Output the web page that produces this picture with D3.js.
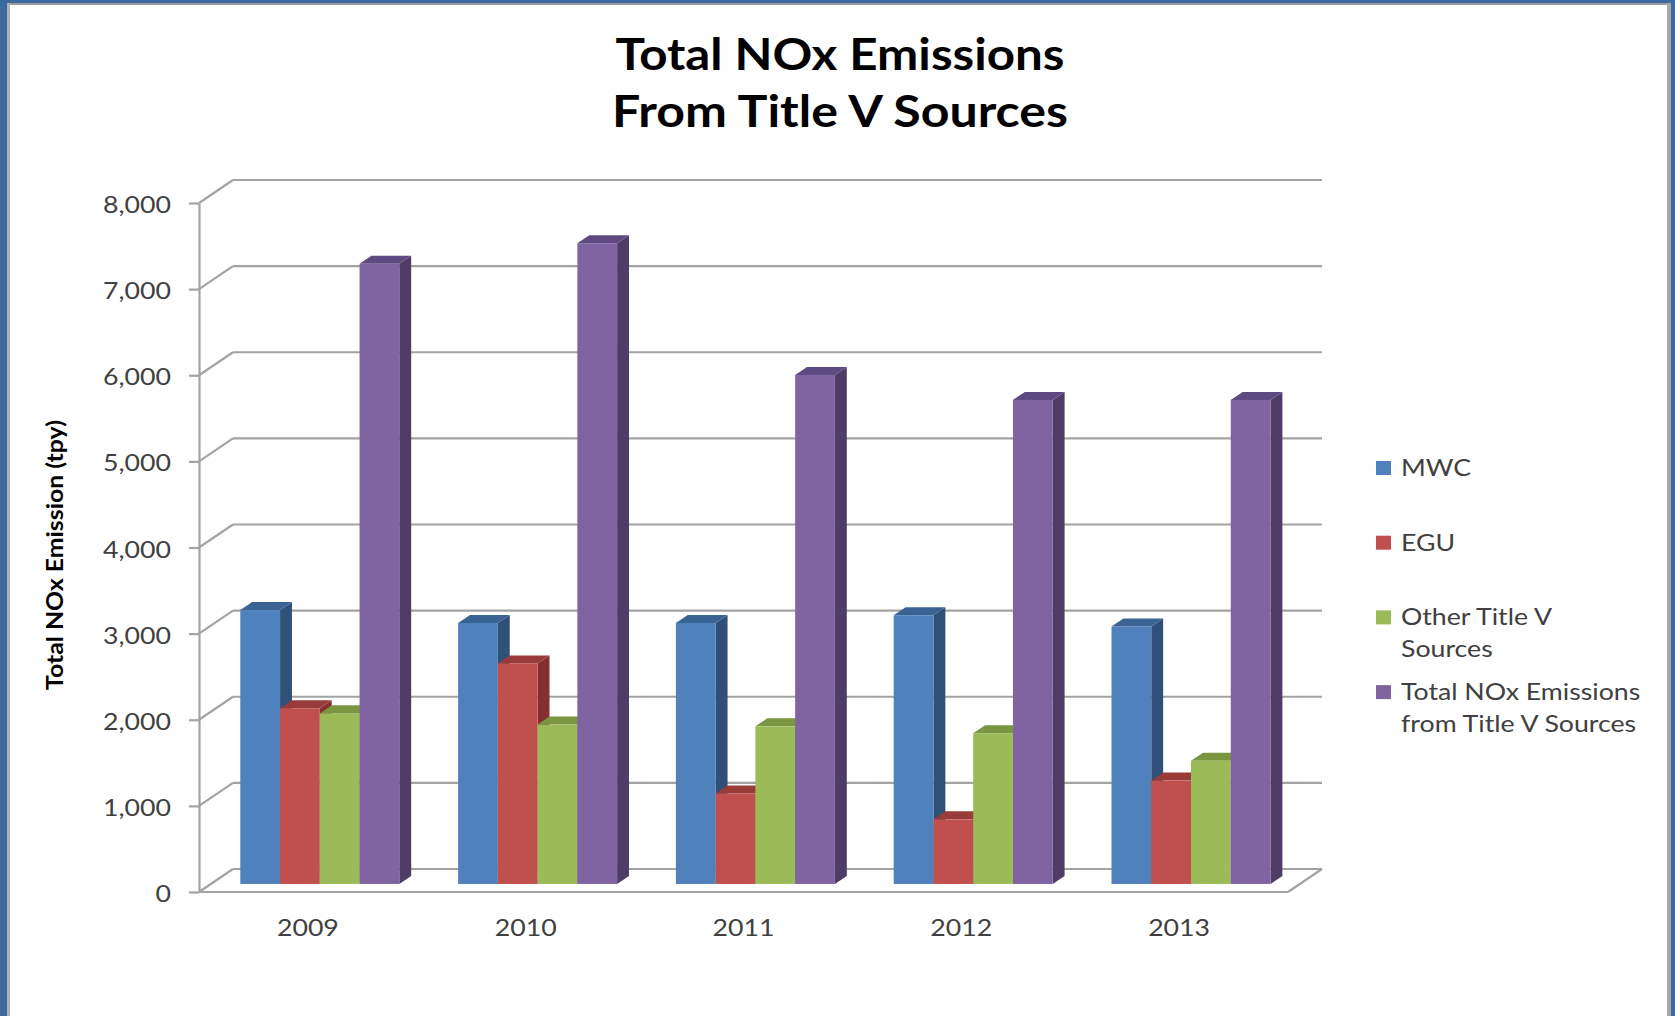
<!DOCTYPE html>
<html>
<head>
<meta charset="utf-8">
<script src="https://cdn.jsdelivr.net/npm/d3@7"></script>
<style>
  html, body { margin: 0; padding: 0; background: #ffffff; }
  svg { display: block; }
  text { font-family: Lato, "Open Sans", sans-serif; }
</style>
</head>
<body>
<svg id="chart" width="1675" height="1016"></svg>
<script>
// ---- data ----
const years = ["2009", "2010", "2011", "2012", "2013"];
const seriesNames = ["MWC", "EGU", "Other Title V Sources", "Total NOx Emissions from Title V Sources"];
const legendLines = [["MWC"], ["EGU"], ["Other Title V", "Sources"], ["Total NOx Emissions", "from Title V Sources"]];
const mwc = [3180, 3030, 3030, 3120, 2990];
const egu = [2040, 2560, 1050, 750, 1200];
const otherTitleV = [1980, 1850, 1830, 1750, 1430];
const totalNOx = [7200, 7440, 5910, 5620, 5620];
const yTicks = [0, 1000, 2000, 3000, 4000, 5000, 6000, 7000, 8000];
const titleLines = ["Total NOx Emissions", "From Title V Sources"];
const yAxisTitle = "Total NOx Emission (tpy)";

// ---- styling ----
const frontColors = ["#4F81BD", "#C0504D", "#9BBB59", "#8064A2"];
const sideColors  = ["#2F5077", "#823130", "#6B8439", "#4F3D68"];
const topColors   = ["#3A6393", "#983B39", "#7A9640", "#5E4A80"];
const gridColor = "#a3a3a3";
const textGray = "#404040";

const series = [mwc, egu, otherTitleV, totalNOx];
const svg = d3.select("#chart");

// horizontal stretch of the typography
const SX = 1.16;
function stretch(sel, sx) {
  sel.each(function () {
    const len = this.getComputedTextLength();
    this.setAttribute("textLength", len * sx);
    this.setAttribute("lengthAdjust", "spacingAndGlyphs");
  });
}
function fitTo(sel, width) {
  sel.attr("textLength", width).attr("lengthAdjust", "spacingAndGlyphs");
}

// ---- frame ----
svg.append("rect").attr("x", 0).attr("y", 0).attr("width", 1675).attr("height", 1016).attr("fill", "#fff");
svg.append("rect").attr("x", 0).attr("y", 0).attr("width", 1675).attr("height", 3).attr("fill", "#3d6a9e");
svg.append("rect").attr("x", 0).attr("y", 3).attr("width", 1675).attr("height", 2).attr("fill", "#9a9a9a");
svg.append("rect").attr("x", 0).attr("y", 0).attr("width", 7).attr("height", 1016).attr("fill", "#3d6a9e");
svg.append("rect").attr("x", 7).attr("y", 3).attr("width", 3).attr("height", 1013).attr("fill", "#b0b0b0");
svg.append("rect").attr("x", 1671).attr("y", 0).attr("width", 4).attr("height", 1016).attr("fill", "#3d6a9e");
svg.append("rect").attr("x", 1667).attr("y", 3).attr("width", 4).attr("height", 1013).attr("fill", "#a8a8a8");

// ---- plot geometry ----
const plotLeft = 199, plotRight = 1288;
const DX = 34, DY = -23;           // floor depth offset
const barFront = 0.35, barDepth = 0.35;

const y = d3.scaleLinear().domain([0, 8000]).range([892, 203]);
const x0 = d3.scaleBand().domain(years).range([plotLeft, plotRight])
  .paddingInner(0.27).paddingOuter(0.135);
const x1 = d3.scaleBand().domain(d3.range(series.length)).range([0, x0.bandwidth()]);

const walls = svg.append("g").attr("stroke", gridColor).attr("stroke-width", 2.2).attr("fill", "none");
// back wall gridlines
walls.selectAll("line.grid").data(yTicks).join("line").attr("class", "grid")
  .attr("x1", plotLeft + DX).attr("x2", plotRight + DX)
  .attr("y1", d => y(d) + DY).attr("y2", d => y(d) + DY);
// side wall gridlines
walls.selectAll("line.side").data(yTicks).join("line").attr("class", "side")
  .attr("x1", plotLeft).attr("x2", plotLeft + DX)
  .attr("y1", d => y(d)).attr("y2", d => y(d) + DY);
// floor front and right edges
walls.append("line").attr("x1", plotLeft).attr("x2", plotRight).attr("y1", y(0)).attr("y2", y(0));
walls.append("line").attr("x1", plotRight).attr("x2", plotRight + DX).attr("y1", y(0)).attr("y2", y(0) + DY);

// value axis
const yAxis = svg.append("g").attr("transform", `translate(${plotLeft},0)`)
  .call(d3.axisLeft(y).tickValues(yTicks).tickFormat(d3.format(",")).tickSize(10).tickSizeOuter(0).tickPadding(18));
yAxis.select(".domain").attr("stroke", gridColor).attr("stroke-width", 2.2);
yAxis.selectAll(".tick line").attr("stroke", gridColor).attr("stroke-width", 2.2);
yAxis.selectAll(".tick text").attr("font-family", "Lato").attr("font-size", 23)
  .attr("fill", textGray).attr("dy", null).attr("y", 9.5);
stretch(yAxis.selectAll(".tick text"), SX);

// category axis
const xAxis = svg.append("g").attr("transform", `translate(0,${y(0)})`)
  .call(d3.axisBottom(x0).tickSize(0).tickPadding(0));
xAxis.select(".domain").remove();
xAxis.selectAll(".tick text").attr("font-family", "Lato").attr("font-size", 23)
  .attr("fill", textGray).attr("dy", null).attr("y", 44);
stretch(xAxis.selectAll(".tick text"), SX);

// ---- 3D columns ----
const bdx = barDepth * DX, bdy = barDepth * DY;
const bars = [];
years.forEach((yr, i) => {
  series.forEach((vals, s) => {
    bars.push({ yr, s, v: vals[i] });
  });
});
const barG = svg.append("g").selectAll("g.bar").data(bars).join("g").attr("class", "bar");
barG.each(function (d) {
  const g = d3.select(this);
  const x = x0(d.yr) + x1(d.s) + barFront * DX;
  const w = x1.bandwidth();
  const yb = y(0) + barFront * DY;
  const yt = y(d.v) + barFront * DY;
  g.append("polygon").attr("fill", sideColors[d.s])
    .attr("points", [[x + w, yb], [x + w + bdx, yb + bdy], [x + w + bdx, yt + bdy], [x + w, yt]].join(" "));
  g.append("polygon").attr("fill", topColors[d.s])
    .attr("points", [[x, yt], [x + w, yt], [x + w + bdx, yt + bdy], [x + bdx, yt + bdy]].join(" "));
  g.append("rect").attr("fill", frontColors[d.s])
    .attr("x", x).attr("y", yt).attr("width", w).attr("height", yb - yt);
});

// ---- legend ----
const legend = svg.append("g").attr("transform", "translate(1376,461)");
const item = legend.selectAll("g").data(seriesNames).join("g")
  .attr("transform", (d, i) => `translate(0,${i * 74.7})`);
item.append("rect").attr("width", 15).attr("height", 14).attr("fill", (d, i) => frontColors[i]);
item.each(function (d, i) {
  const t = d3.select(this).append("text").attr("font-size", 23).attr("fill", textGray);
  t.selectAll("tspan").data(legendLines[i]).join("tspan")
    .attr("x", 25).attr("y", (l, k) => 15 + k * 32).text(l => l);
});
legend.selectAll("tspan").each(function () {
  const len = this.getComputedTextLength();
  this.setAttribute("textLength", len * SX);
  this.setAttribute("lengthAdjust", "spacingAndGlyphs");
});

// ---- titles ----
const title = svg.append("g");
const tl = title.selectAll("text").data(titleLines).join("text")
  .attr("x", 840).attr("y", (d, i) => 69.5 + i * 57.5)
  .attr("text-anchor", "middle").attr("font-size", 43).attr("font-weight", 700).attr("fill", "#000")
  .text(d => d);
fitTo(tl.filter((d, i) => i === 0), 449);
fitTo(tl.filter((d, i) => i === 1), 456);

svg.append("text")
  .attr("transform", "translate(63,555) rotate(-90)")
  .attr("text-anchor", "middle").attr("font-size", 22).attr("font-weight", 700).attr("fill", "#000")
  .text(yAxisTitle)
  .call(fitTo, 270);
</script>
</body>
</html>
